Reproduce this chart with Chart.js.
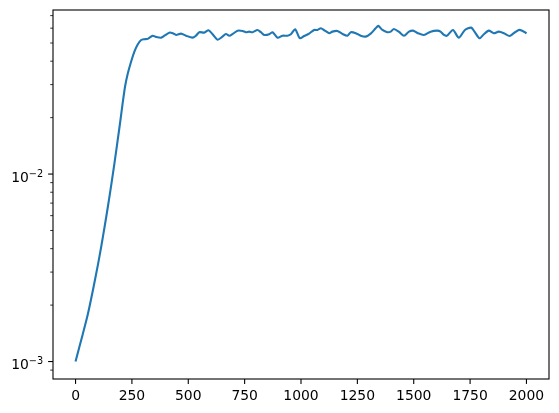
<!DOCTYPE html>
<html>
<head>
<meta charset="utf-8">
<script src="https://cdn.jsdelivr.net/npm/chart.js@4/dist/chart.umd.min.js"></script>
<style>
  html, body { margin: 0; padding: 0; background: #fff; }
  #plot { display: block; }
</style>
</head>
<body>
<canvas id="plot" width="559" height="413"></canvas>
<script>
// x positions (steps) and the value at each one
const steps = [0, 32, 55, 77, 100, 114, 130, 143, 155, 165, 177, 187, 198, 209, 220, 232, 247, 261, 275, 291, 305, 320, 342, 357, 380, 394, 416,
  431, 446, 468, 490, 519, 534, 549, 571, 590, 608, 630, 652, 667, 682, 697, 719, 741, 756, 770, 785,
  807, 822, 837, 859, 874, 896, 918, 940, 955, 974, 995, 1014, 1036, 1058, 1073, 1088, 1103, 1125, 1139, 1161,
  1184, 1206, 1221, 1243, 1265, 1287, 1309, 1331, 1343, 1361, 1383, 1398, 1412, 1435, 1457, 1479, 1497, 1516, 1545, 1575,
  1604, 1619, 1634, 1648, 1674, 1700, 1727, 1755, 1771, 1792, 1811, 1833, 1855, 1877, 1900, 1925, 1944, 1966, 1981, 1996,
  2000];
const values = [0.00100, 0.00140, 0.00180, 0.00240, 0.00332, 0.00411, 0.00533, 0.00665, 0.00823, 0.00990, 0.01245, 0.0152, 0.01895, 0.0239, 0.0295, 0.0345, 0.0400, 0.0450, 0.0490, 0.0519, 0.0524, 0.0526, 0.0547, 0.0539, 0.0534, 0.0547, 0.0568,
  0.0564, 0.0552, 0.0561, 0.0547, 0.0534, 0.0547, 0.0571, 0.0568, 0.0585, 0.0557, 0.0521, 0.0541, 0.0559, 0.0547, 0.0559, 0.0582, 0.0580, 0.0571, 0.0575, 0.0571,
  0.0587, 0.0571, 0.0552, 0.0557, 0.0571, 0.0534, 0.0547, 0.0547, 0.0557, 0.0592, 0.0530, 0.0545, 0.0561, 0.0587, 0.0587, 0.0599, 0.0585, 0.0564, 0.0575, 0.0580,
  0.0559, 0.0547, 0.0571, 0.0564, 0.0547, 0.0541, 0.0561, 0.0599, 0.0617, 0.0587, 0.0571, 0.0575, 0.0594, 0.0573, 0.0547, 0.0575, 0.0582, 0.0566, 0.0552, 0.0575,
  0.0582, 0.0575, 0.0552, 0.0547, 0.0587, 0.0534, 0.0587, 0.0604, 0.0571, 0.0530, 0.0557, 0.0582, 0.0564, 0.0575, 0.0564, 0.0545, 0.0564, 0.0587, 0.0582, 0.0568,
  0.0562];

const xTicks = [0, 250, 500, 750, 1000, 1250, 1500, 1750, 2000];
const yMajorTicks = [1e-3, 1e-2];
const yMajorExps = ["\u22123", "\u22122"];
const yMinorTicks = [9e-4, 2e-3, 3e-3, 4e-3, 5e-3, 6e-3, 7e-3, 8e-3, 9e-3, 2e-2, 3e-2, 4e-2, 5e-2, 6e-2, 7e-2];

const FONT = '"DejaVu Sans", sans-serif';
const FS = 13.9;

// spines, ticks and labels drawn matplotlib-style
const axesPlugin = {
  id: "mplAxes",
  afterDraw(chart) {
    const ctx = chart.ctx;
    const a = chart.chartArea;
    const xs = chart.scales.x, ys = chart.scales.y;
    ctx.save();
    ctx.strokeStyle = "#000";
    ctx.fillStyle = "#000";
    ctx.lineWidth = 1.1;
    ctx.strokeRect(a.left, a.top, a.right - a.left, a.bottom - a.top);

    // x ticks
    ctx.font = FS + "px " + FONT;
    ctx.textAlign = "center";
    ctx.textBaseline = "alphabetic";
    xTicks.forEach(v => {
      const px = xs.getPixelForValue(v);
      ctx.beginPath();
      ctx.moveTo(px, a.bottom);
      ctx.lineTo(px, a.bottom + 4.9);
      ctx.stroke();
      ctx.fillText(String(v), px, a.bottom + 20.8);
    });

    // y minor ticks
    ctx.lineWidth = 0.8;
    yMinorTicks.forEach(v => {
      const py = ys.getPixelForValue(v);
      if (py < a.top || py > a.bottom) return;
      ctx.beginPath();
      ctx.moveTo(a.left, py);
      ctx.lineTo(a.left - 2.8, py);
      ctx.stroke();
    });

    // y major ticks with 10^n labels
    ctx.lineWidth = 1.1;
    yMajorTicks.forEach((v, i) => {
      const py = ys.getPixelForValue(v);
      ctx.beginPath();
      ctx.moveTo(a.left, py);
      ctx.lineTo(a.left - 4.9, py);
      ctx.stroke();
      const right = a.left - 9.8;
      ctx.textAlign = "left";
      ctx.font = (FS * 0.7) + "px " + FONT;
      const ew = ctx.measureText(yMajorExps[i]).width;
      ctx.font = FS + "px " + FONT;
      const bw = ctx.measureText("10").width;
      const x0 = right - ew - bw;
      ctx.fillText("10", x0, py + 7.6);
      ctx.font = (FS * 0.7) + "px " + FONT;
      ctx.fillText(yMajorExps[i], x0 + bw, py + 2.8);
    });
    ctx.restore();
  }
};

new Chart(document.getElementById("plot").getContext("2d"), {
  type: "line",
  data: {
    datasets: [{
      data: steps.map((s, i) => ({ x: s, y: values[i] })),
      borderColor: "#1f77b4",
      borderWidth: 2.1,
      pointRadius: 0,
      tension: 0.25,
      fill: false
    }]
  },
  options: {
    responsive: false,
    animation: false,
    layout: { padding: { left: 53, top: 10, right: 10, bottom: 34 } },
    plugins: { legend: { display: false }, tooltip: { enabled: false } },
    scales: {
      x: { type: "linear", min: -100, max: 2100, display: false },
      y: { type: "logarithmic", min: 0.000807, max: 0.075, display: false }
    }
  },
  plugins: [axesPlugin]
});
</script>
</body>
</html>
